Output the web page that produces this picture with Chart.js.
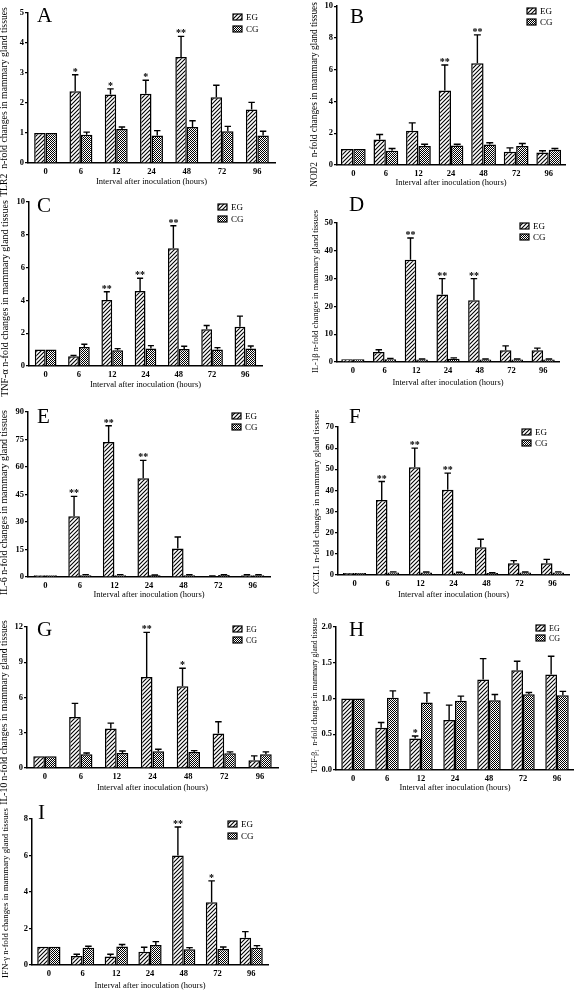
<!DOCTYPE html>
<html>
<head>
<meta charset="utf-8">
<script src="https://cdn.jsdelivr.net/npm/chart.js@4.4.1/dist/chart.umd.min.js"></script>
<style>
  body { margin: 0; background: #fff; width: 574px; height: 992px; position: relative; overflow: hidden; }
  canvas { position: absolute; }
</style>
</head>
<body>
<script>
const hours = ['0', '6', '12', '24', '48', '72', '96'];
const xTitle = 'Interval after inoculation (hours)';

// A - TLR2
const tlr2EG = [1.0, 2.39, 2.28, 2.31, 3.53, 2.19, 1.78];
const tlr2EGErr = [0, 0.55, 0.19, 0.45, 0.69, 0.40, 0.24];
const tlr2CG = [1.0, 0.94, 1.13, 0.92, 1.20, 1.06, 0.92];
const tlr2CGErr = [0, 0.09, 0.07, 0.16, 0.21, 0.16, 0.14];
const tlr2Stars = ['', '*', '*', '*', '**', '', ''];
// B - NOD2
const nod2EG = [1.0, 1.60, 2.15, 4.69, 6.40, 0.83, 0.79];
const nod2EGErr = [0, 0.32, 0.50, 1.60, 1.79, 0.25, 0.11];
const nod2CG = [1.0, 0.90, 1.19, 1.23, 1.29, 1.19, 0.96];
const nod2CGErr = [0, 0.14, 0.12, 0.08, 0.11, 0.16, 0.08];
const nod2Stars = ['', '', '', '**', '**', '', ''];
// C - TNF-a
const tnfEG = [1.0, 0.59, 4.02, 4.57, 7.18, 2.24, 2.39];
const tnfEGErr = [0, 0.06, 0.51, 0.78, 1.37, 0.23, 0.65];
const tnfCG = [1.0, 1.16, 0.96, 1.06, 1.04, 1.0, 1.06];
const tnfCGErr = [0, 0.17, 0.10, 0.18, 0.16, 0.12, 0.16];
const tnfStars = ['', '', '**', '**', '**', '', ''];
// D - IL-1b
const il1EG = [1.0, 3.6, 36.8, 24.3, 22.2, 4.2, 4.2];
const il1EGErr = [0, 0.8, 7.8, 5.7, 7.8, 1.6, 0.8];
const il1CG = [1.0, 1.0, 0.9, 1.2, 0.9, 0.9, 0.9];
const il1CGErr = [0, 0.3, 0.2, 0.3, 0.2, 0.2, 0.2];
const il1Stars = ['', '', '**', '**', '**', '', ''];
// E - IL-6
const il6EG = [1.0, 33.1, 73.6, 53.8, 15.5, 0.4, 1.0];
const il6EGErr = [0, 10.9, 8.9, 9.8, 6.3, 0.2, 0.2];
const il6CG = [1.0, 1.0, 1.0, 0.9, 1.0, 1.1, 1.0];
const il6CGErr = [0, 0.3, 0.3, 0.2, 0.2, 0.2, 0.2];
const il6Stars = ['', '**', '**', '**', '', '', ''];
// F - CXCL1
const cxclEG = [1.0, 35.5, 51.0, 40.3, 13.1, 5.5, 5.5];
const cxclEGErr = [0, 8.7, 9.0, 7.9, 3.8, 1.3, 1.9];
const cxclCG = [1.0, 1.2, 1.2, 1.1, 0.9, 1.2, 1.2];
const cxclCGErr = [0, 0.3, 0.2, 0.2, 0.2, 0.2, 0.3];
const cxclStars = ['', '**', '**', '**', '', '', ''];
// G - IL-10
const il10EG = [1.0, 4.33, 3.36, 7.75, 6.95, 2.93, 0.66];
const il10EGErr = [0, 1.17, 0.46, 3.79, 1.54, 1.0, 0.37];
const il10CG = [1.0, 1.17, 1.28, 1.42, 1.37, 1.25, 1.17];
const il10CGErr = [0, 0.11, 0.17, 0.18, 0.11, 0.12, 0.2];
const il10Stars = ['', '', '', '**', '*', '', ''];
// H - TGF-b1
const tgfEG = [1.0, 0.59, 0.44, 0.70, 1.265, 1.395, 1.335];
const tgfEGErr = [0, 0.075, 0.035, 0.207, 0.293, 0.125, 0.255];
const tgfCG = [1.0, 1.01, 0.944, 0.967, 0.977, 1.06, 1.047];
const tgfCGErr = [0, 0.097, 0.135, 0.066, 0.079, 0.024, 0.053];
const tgfStars = ['', '', '*', '', '', '', ''];
// I - IFN-g
const ifnEG = [1.0, 0.49, 0.46, 0.73, 6.0, 3.44, 1.5];
const ifnEGErr = [0, 0.1, 0.13, 0.24, 1.56, 1.17, 0.33];
const ifnCG = [1.0, 0.95, 1.01, 1.1, 0.86, 0.88, 0.95];
const ifnCGErr = [0, 0.08, 0.11, 0.18, 0.09, 0.11, 0.11];
const ifnStars = ['', '', '', '', '**', '*', ''];

const SERIF = "'Liberation Serif', 'Times New Roman', serif";

// hatch fills
function stripePattern() {
  const c = document.createElement('canvas');
  c.width = c.height = 4;
  const g = c.getContext('2d');
  g.fillStyle = '#fff';
  g.fillRect(0, 0, 4, 4);
  g.strokeStyle = '#000';
  g.lineWidth = 1.1;
  g.beginPath();
  g.moveTo(0, 4); g.lineTo(4, 0);
  g.moveTo(-1, 1); g.lineTo(1, -1);
  g.moveTo(3, 5); g.lineTo(5, 3);
  g.stroke();
  return g.createPattern(c, 'repeat');
}
function checkPattern() {
  const c = document.createElement('canvas');
  c.width = c.height = 2;
  const g = c.getContext('2d');
  g.fillStyle = '#fff';
  g.fillRect(0, 0, 2, 2);
  g.fillStyle = '#000';
  g.fillRect(0, 0, 1, 1);
  g.fillRect(1, 1, 1, 1);
  return g.createPattern(c, 'repeat');
}
const egFill = stripePattern();
const cgFill = checkPattern();

// panels: data + where things sit on the page
const panels = [
  { letter: 'A', yLabel: 'TLR2  n-fold changes in mammary gland tissues', max: 5, step: 1,
    eg: tlr2EG, egErr: tlr2EGErr, cg: tlr2CG, cgErr: tlr2CGErr, stars: tlr2Stars,
    box: [0, 0, 287, 200], area: [28, 13, 275, 163], xT: 182, yT: [4, 197, 7],
    let: [37, 22], leg: [233, 17, 29], cp: 0.65 },
  { letter: 'B', yLabel: 'NOD2  n-fold changes in mammary gland tissues', max: 10, step: 2,
    eg: nod2EG, egErr: nod2EGErr, cg: nod2CG, cgErr: nod2CGErr, stars: nod2Stars,
    box: [309, 0, 574, 195], area: [337, 5, 565, 165], xT: 183, yT: [315, 187, 2],
    let: [350, 23], leg: [527, 11, 22], cp: 0.76 },
  { letter: 'C', yLabel: 'TNF-\u03b1 n-fold changes in mammary gland tissues', max: 10, step: 2,
    eg: tnfEG, egErr: tnfEGErr, cg: tnfCG, cgErr: tnfCGErr, stars: tnfStars,
    box: [0, 188, 287, 400], area: [29, 202, 262, 366], xT: 385, yT: [5, 397, 200],
    let: [37, 212], leg: [218, 207, 219], cp: 0.65 },
  { letter: 'D', yLabel: 'IL-1\u03b2 n-fold changes in mammary gland tissues', max: 50, step: 10,
    eg: il1EG, egErr: il1EGErr, cg: il1CG, cgErr: il1CGErr, stars: il1Stars,
    box: [310, 188, 574, 395], area: [337, 223, 559, 362], xT: 383, yT: [316, 373, 210],
    let: [349, 211], leg: [520, 226, 237], cp: 0.73 },
  { letter: 'E', yLabel: 'IL-6 n-fold changes in mammary gland tissues', max: 90, step: 15,
    eg: il6EG, egErr: il6EGErr, cg: il6CG, cgErr: il6CGErr, stars: il6Stars,
    box: [0, 400, 287, 604], area: [28, 412, 270, 577], xT: 595, yT: [4, 595, 410],
    let: [37, 423], leg: [232, 416, 427], cp: 0.67 },
  { letter: 'F', yLabel: 'CXCL1 n-fold changes in mammary gland tissues', max: 70, step: 10,
    eg: cxclEG, egErr: cxclEGErr, cg: cxclCG, cgErr: cxclCGErr, stars: cxclStars,
    box: [311, 400, 574, 604], area: [338, 427, 569, 575], xT: 595, yT: [317, 594, 410],
    let: [349, 423], leg: [522, 432, 443], cp: 0.7 },
  { letter: 'G', yLabel: 'IL-10 n-fold changes in mammary gland tissues', max: 12, step: 3,
    eg: il10EG, egErr: il10EGErr, cg: il10CG, cgErr: il10CGErr, stars: il10Stars,
    box: [0, 605, 287, 808], area: [27, 627, 278, 768], xT: 788, yT: [4, 805, 620],
    let: [37, 636], leg: [233, 629, 640], cp: 0.65, legSize: 8 },
  { letter: 'H', yLabel: 'TGF-\u03b2\u2081  n-fold changes in mammary gland tissues', max: 2, step: 0.5, dec: 1,
    eg: tgfEG, egErr: tgfEGErr, cg: tgfCG, cgErr: tgfCGErr, stars: tgfStars,
    box: [309, 605, 574, 800], area: [336, 627, 574, 770], xT: 788, yT: [315, 773, 618],
    let: [349, 636], leg: [536, 628, 638], cp: 0.69, legSize: 8 },
  { letter: 'I', yLabel: 'IFN-\u03b3 n-fold changes in mammary gland tissues', max: 8, step: 2,
    eg: ifnEG, egErr: ifnEGErr, cg: ifnCG, cgErr: ifnCGErr, stars: ifnStars,
    box: [0, 800, 287, 992], area: [32, 819, 268, 965], xT: 986, yT: [6, 978, 808],
    let: [38, 819], leg: [228, 824, 836], cp: 0.69 },
];

// error bars, stars, legend, panel letter, y title
const decor = {
  id: 'decor',
  afterDatasetsDraw(chart, args, o) {
    const ctx = chart.ctx;
    const y = chart.scales.y;
    ctx.save();
    ctx.strokeStyle = '#000';
    ctx.fillStyle = '#000';
    ctx.lineWidth = 1.4;
    chart.data.datasets.forEach((ds, i) => {
      chart.getDatasetMeta(i).data.forEach((bar, j) => {
        const e = ds.err[j];
        if (!e) return;
        const top = y.getPixelForValue(ds.data[j] + e);
        const half = bar.width * 0.28;
        ctx.beginPath();
        ctx.moveTo(bar.x, bar.y);
        ctx.lineTo(bar.x, top);
        ctx.moveTo(bar.x - half, top);
        ctx.lineTo(bar.x + half, top);
        ctx.stroke();
        if (ds.stars && ds.stars[j]) {
          ctx.font = 'bold 10px ' + SERIF;
          ctx.textAlign = 'center';
          ctx.textBaseline = 'alphabetic';
          ctx.fillText(ds.stars[j], bar.x, top);
        }
      });
    });
    ctx.restore();
  },
  afterDraw(chart, args, o) {
    const p = o.panel;
    const ox = p.box[0], oy = p.box[1];
    const ctx = chart.ctx;
    ctx.save();
    ctx.fillStyle = '#000';
    // letter
    ctx.font = '21px ' + SERIF;
    ctx.textAlign = 'left';
    ctx.textBaseline = 'alphabetic';
    ctx.fillText(p.letter, p.let[0] - ox, p.let[1] - oy);
    // legend
    const ls = p.legSize || 9;
    ctx.font = ls + 'px ' + SERIF;
    ctx.textBaseline = 'middle';
    chart.data.datasets.forEach((ds, i) => {
      const sx = p.leg[0] - ox, sy = p.leg[1 + i] - oy;
      ctx.fillStyle = ds.backgroundColor;
      ctx.fillRect(sx, sy - 3, 9, 6);
      ctx.strokeStyle = '#000';
      ctx.lineWidth = 1.2;
      ctx.strokeRect(sx, sy - 3, 9, 6);
      ctx.fillStyle = '#000';
      ctx.fillText(ds.label, sx + 13, sy + 0.5);
    });
    // y title
    const len = p.yT[1] - p.yT[2];
    ctx.font = '9px ' + SERIF;
    let size = 9 * len / ctx.measureText(p.yLabel).width;
    size = Math.max(7, Math.min(11, size));
    ctx.font = size.toFixed(2) + 'px ' + SERIF;
    ctx.translate(p.yT[0] - ox, (p.yT[1] + p.yT[2]) / 2 - oy);
    ctx.rotate(-Math.PI / 2);
    ctx.textAlign = 'center';
    ctx.fillText(p.yLabel, 0, 0);
    ctx.restore();
  }
};

panels.forEach(p => {
  const [bx, by, bx2, by2] = p.box;
  const [l, t, r, b] = p.area;
  const cv = document.createElement('canvas');
  cv.width = bx2 - bx;
  cv.height = by2 - by;
  cv.style.left = bx + 'px';
  cv.style.top = by + 'px';
  document.body.appendChild(cv);

  const titleSize = 8.5;
  const xH = p.xT - b + titleSize * 1.2 / 2;
  const tickFont = { family: SERIF, size: 8.5, weight: 'bold' };

  new Chart(cv, {
    type: 'bar',
    data: {
      labels: hours,
      datasets: [
        { label: 'EG', data: p.eg, err: p.egErr, stars: p.stars, backgroundColor: egFill,
          borderColor: '#000', borderWidth: 1.5, categoryPercentage: p.cp, barPercentage: 1 },
        { label: 'CG', data: p.cg, err: p.cgErr, backgroundColor: cgFill,
          borderColor: '#000', borderWidth: 1.5, categoryPercentage: p.cp, barPercentage: 1 },
      ]
    },
    options: {
      responsive: false,
      devicePixelRatio: 1,
      animation: false,
      events: [],
      layout: { padding: { left: 0, top: t - by, right: bx2 - r, bottom: by2 - (b + xH) } },
      plugins: {
        legend: { display: false },
        tooltip: { enabled: false },
        decor: { panel: p }
      },
      scales: {
        x: {
          grid: { display: false, drawTicks: false },
          border: { display: true, color: '#000', width: 1.5 },
          ticks: { color: '#000', font: tickFont, padding: 4, maxRotation: 0, autoSkip: false },
          title: { display: true, text: xTitle, color: '#000', font: { family: SERIF, size: titleSize }, padding: 0 },
          afterFit(s) { s.height = xH; }
        },
        y: {
          min: 0,
          max: p.max,
          grid: { drawOnChartArea: false, drawTicks: true, tickLength: 3, color: '#000', lineWidth: 1.2 },
          border: { display: true, color: '#000', width: 1.5 },
          ticks: {
            stepSize: p.step, color: '#000', font: tickFont, padding: 1,
            callback: v => p.dec ? v.toFixed(p.dec) : v
          },
          afterFit(s) { s.width = l - bx; }
        }
      }
    },
    plugins: [decor]
  });
});
</script>
</body>
</html>
